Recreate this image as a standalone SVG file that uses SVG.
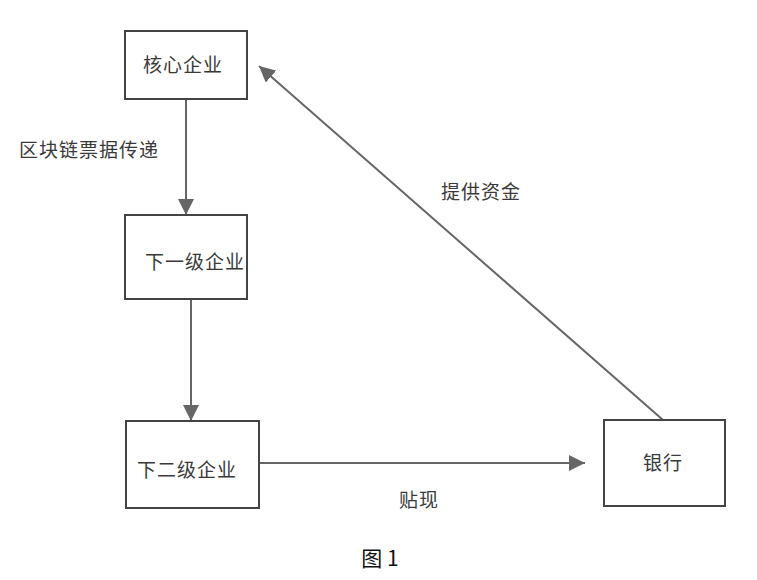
<svg xmlns="http://www.w3.org/2000/svg" width="757" height="580" viewBox="0 0 757 580">
<defs>
<style>
.box{fill:#fff;stroke:#444;stroke-width:2}
.t{font-family:"Noto Sans CJK SC","Liberation Sans",sans-serif;font-size:19px;letter-spacing:1px;fill:#3a3a3a}
.c{stroke:#666;stroke-width:2;fill:none}
</style>
<marker id="ah2" viewBox="0 0 10 10" refX="10" refY="5" markerWidth="16" markerHeight="16" markerUnits="userSpaceOnUse" orient="auto">
<path d="M0,0 L10,5 L0,10 z" fill="#666"/>
</marker>
</defs>
<rect width="757" height="580" fill="#fff"/>
<g id="connectors">
<line class="c" x1="186" y1="99" x2="186" y2="215" marker-end="url(#ah2)"/>
<line class="c" x1="191" y1="299" x2="191" y2="421" marker-end="url(#ah2)"/>
<line class="c" x1="259" y1="463" x2="585" y2="463" marker-end="url(#ah2)"/>
<line class="c" x1="663" y1="420" x2="259" y2="66" marker-end="url(#ah2)"/>
<text class="t" x="19" y="157">区块链票据传递</text>
<text class="t" x="441" y="199">提供资金</text>
<text class="t" x="399" y="507">贴现</text>
</g>
<g id="n1"><rect class="box" x="125" y="31" width="122" height="68"/><text class="t" x="143" y="72">核心企业</text></g>
<g id="n2"><rect class="box" x="125" y="215" width="122" height="84"/><text class="t" x="145" y="269">下一级企业</text></g>
<g id="n3"><rect class="box" x="126" y="421" width="133" height="87"/><text class="t" x="137" y="477">下二级企业</text></g>
<g id="n4"><rect class="box" x="604" y="420" width="121" height="86"/><text class="t" x="643" y="470">银行</text></g>
<text x="380" y="566" style="font-family:'Noto Sans CJK SC','Liberation Sans',sans-serif;font-size:21px;fill:#111" text-anchor="middle">图 1</text>
</svg>
